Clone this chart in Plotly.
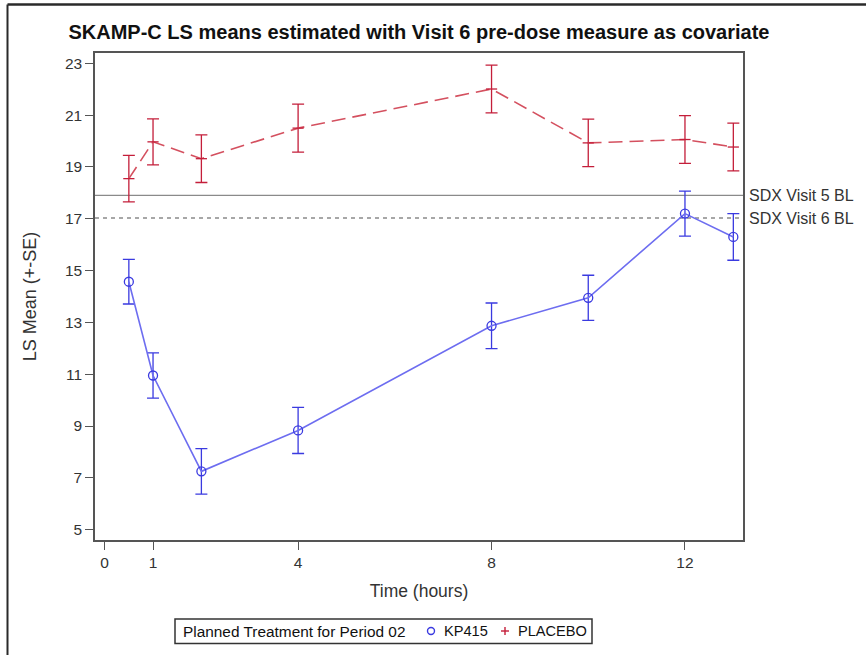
import plotly.graph_objects as go

# Time points (hours) and LS means with standard errors
hours = [0.5, 1, 2, 4, 8, 10, 12, 13]
kp415_mean = [14.57, 10.95, 7.25, 8.83, 12.87, 13.95, 17.20, 16.30]
kp415_se = [0.86, 0.87, 0.88, 0.89, 0.88, 0.87, 0.87, 0.90]
placebo_mean = [18.55, 19.97, 19.32, 20.50, 22.01, 19.93, 20.06, 19.77]
placebo_se = [0.90, 0.89, 0.92, 0.93, 0.92, 0.92, 0.92, 0.92]

# Baseline reference values
baseline_labels = ["SDX Visit 5 BL", "SDX Visit 6 BL"]
baseline_values = [17.9, 17.03]
baseline_dash = ["solid", "4px,4px"]

x_ticks = [0, 1, 4, 8, 12]
y_ticks = [5, 7, 9, 11, 13, 15, 17, 19, 21, 23]

BLUE = "#3a3ae0"
BLUE_LINE = "#6d6df0"
RED = "#c41e3a"
RED_LINE = "#d4505f"
AXIS = "#555555"
TEXT = "#333333"
FONT = "Liberation Sans, Arial, sans-serif"

# Plot-area geometry in pixels (used to place items outside the axes)
W, H = 866, 655
ML, MR, MT, MB = 95, 123, 53, 115
PW, PH = W - ML - MR, H - MT - MB


def px(x):
    return (x - ML) / PW


def py(y):
    return (H - MB - y) / PH


fig = go.Figure()

fig.add_trace(go.Scatter(
    x=hours, y=kp415_mean, mode="lines+markers", name="KP415",
    line=dict(color=BLUE_LINE, width=1.6),
    marker=dict(symbol="circle-open", size=9, color=BLUE, line=dict(width=1.3)),
    error_y=dict(type="data", array=kp415_se, color=BLUE, thickness=1.3, width=6),
    showlegend=False,
))
fig.add_trace(go.Scatter(
    x=hours, y=placebo_mean, mode="lines+markers", name="PLACEBO",
    line=dict(color=RED_LINE, width=1.6, dash="14px,7px"),
    marker=dict(symbol="line-ew", size=8, color=RED, line=dict(width=1.3, color=RED)),
    error_y=dict(type="data", array=placebo_se, color=RED, thickness=1.3, width=6),
    showlegend=False,
))

for label, val, dash in zip(baseline_labels, baseline_values, baseline_dash):
    fig.add_shape(type="line", xref="paper", x0=0, x1=1, yref="y", y0=val, y1=val,
                  line=dict(color="#8a8a8a", width=1.3, dash=dash), layer="below")
    fig.add_annotation(xref="paper", x=1.006, yref="y", y=val, text=label,
                       showarrow=False, xanchor="left", yanchor="middle",
                       font=dict(family=FONT, size=16, color=TEXT))

# Group legend box below the axes
leg_y = 631
leg_font = dict(family=FONT, size=14.6, color="#111111")
fig.add_shape(type="rect", xref="paper", yref="paper",
              x0=px(175), x1=px(592), y0=py(643.5), y1=py(619),
              line=dict(color="#333333", width=1.5), fillcolor="white")
fig.add_annotation(xref="paper", yref="paper", x=px(181), y=py(leg_y),
                   xanchor="left", yanchor="middle", showarrow=False,
                   text="Planned Treatment for Period 02",
                   font=dict(family=FONT, size=15.4, color="#111111"))
fig.add_shape(type="circle", xref="paper", yref="paper",
              x0=px(427.5), x1=px(434.5), y0=py(634.5), y1=py(627.5),
              line=dict(color=BLUE, width=1.4))
fig.add_annotation(xref="paper", yref="paper", x=px(442), y=py(leg_y),
                   xanchor="left", yanchor="middle", showarrow=False,
                   text="KP415", font=leg_font)
fig.add_shape(type="line", xref="paper", yref="paper",
              x0=px(501), x1=px(509), y0=py(leg_y), y1=py(leg_y),
              line=dict(color=RED, width=1.4))
fig.add_shape(type="line", xref="paper", yref="paper",
              x0=px(505), x1=px(505), y0=py(leg_y + 4), y1=py(leg_y - 4),
              line=dict(color=RED, width=1.4))
fig.add_annotation(xref="paper", yref="paper", x=px(516), y=py(leg_y),
                   xanchor="left", yanchor="middle", showarrow=False,
                   text="PLACEBO", font=leg_font)

# Outer frame edges (top and left)
fig.add_shape(type="line", xref="paper", yref="paper", x0=px(7.5), x1=px(W + 5),
              y0=py(4.5), y1=py(4.5), line=dict(color="#2a2a2a", width=2.5))
fig.add_shape(type="line", xref="paper", yref="paper", x0=px(7.5), x1=px(7.5),
              y0=py(4.5), y1=py(H + 5), line=dict(color="#2a2a2a", width=2))

fig.update_layout(
    width=W, height=H,
    margin=dict(l=ML, r=MR, t=MT, b=MB, autoexpand=False),
    paper_bgcolor="white", plot_bgcolor="white",
    font=dict(family=FONT, size=15, color=TEXT),
    title=dict(text="<b>SKAMP-C LS means estimated with Visit 6 pre-dose measure as covariate</b>",
               x=0.4838, xanchor="center", y=0.951, yanchor="middle",
               font=dict(family=FONT, size=20, color="#111111")),
    xaxis=dict(range=[-0.2, 13.2], tickvals=x_ticks, ticks="outside", ticklen=8,
               tickcolor=AXIS, showline=True, linecolor=AXIS, linewidth=1.5, mirror=True,
               showgrid=False, zeroline=False,
               title=dict(text="Time (hours)", standoff=14, font=dict(size=17.5)),
               tickfont=dict(size=15.5, color=TEXT)),
    yaxis=dict(range=[4.6, 23.4], tickvals=y_ticks, ticks="outside", ticklen=8,
               tickcolor=AXIS, showline=True, linecolor=AXIS, linewidth=1.5, mirror=True,
               showgrid=False, zeroline=False,
               title=dict(text="LS Mean (+-SE)", standoff=24, font=dict(size=18)),
               tickfont=dict(size=15.5, color=TEXT)),
    showlegend=False,
)

fig.write_html("out.html")
